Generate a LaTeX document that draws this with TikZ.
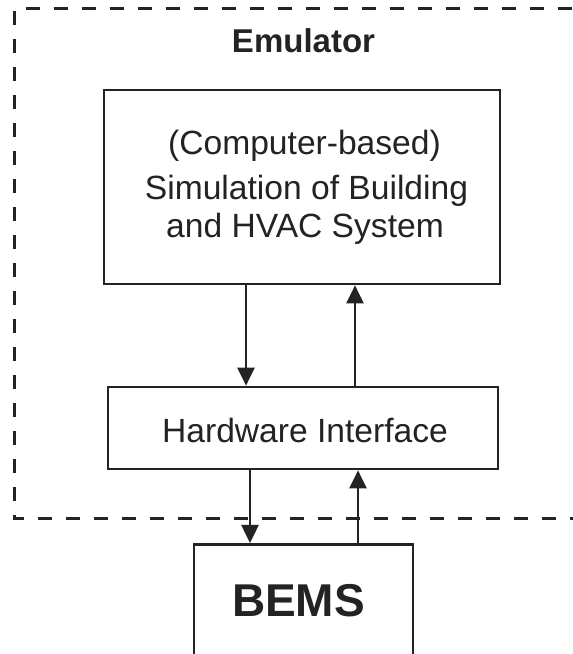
\documentclass[tikz,border=0pt]{standalone}
\usepackage{fontspec}
\setmainfont{Liberation Sans}
\usetikzlibrary{arrows.meta}
\definecolor{ink}{HTML}{232323}
\tikzset{
  x=1pt, y=1pt,
  boxframe/.style={draw=ink, line width=2.7pt, fill=white, inner sep=0pt},
  bodytext/.style={text=ink, inner sep=0pt, anchor=base,
    font=\fontsize{33.6}{40}\selectfont},
  headtext/.style={text=ink, inner sep=0pt, anchor=base,
    font=\fontsize{33}{40}\selectfont\bfseries},
  bigtext/.style={text=ink, inner sep=0pt, anchor=base,
    font=\fontsize{46}{52}\selectfont\bfseries},
  flow/.style={draw=ink, line width=2.5pt,
    -{Triangle[length=18pt,width=17pt]}},
  frameline/.style={draw=ink, line width=3pt, dash pattern=on 14pt off 14pt}
}
\begin{document}
\begin{tikzpicture}
\useasboundingbox (0,0) rectangle (573,654);

% Emulator frame (open to the right)
\coordinate (ftr) at (600,645);
\coordinate (ftl) at (14,645);
\coordinate (fbl) at (14,135);
\coordinate (fbr) at (600,135);
\draw[frameline] (ftr) -- (ftl) -- (fbl) -- (fbr);
\node[headtext] (emu) at (303.5,601) {Emulator};

% Simulation box
\node[boxframe, minimum width=396pt, minimum height=194pt] (sim) at (302,467) {};
\node[bodytext] (simA) at (304.5,499) {(Computer-based)};
\node[bodytext] (simB) at (306.5,454) {Simulation of Building};
\node[bodytext] (simC) at (305,416) {and HVAC System};

% Hardware interface box
\node[boxframe, minimum width=390pt, minimum height=82pt] (hw) at (303,226) {};
\node[bodytext] (hwtxt) at (305,211) {Hardware Interface};

% BEMS box (runs past the lower edge)
\node[boxframe, anchor=north, minimum width=219pt, minimum height=170pt] (bems) at (303.5,111) {};
\node[bigtext] (bemstxt) at (298.5,37) {BEMS};

% Arrow columns
\coordinate (c1) at (246,0);
\coordinate (c2) at (355,0);
\coordinate (c3) at (250,0);
\coordinate (c4) at (358,0);

\draw[flow] (sim.south -| c1) -- (hw.north -| c1);
\draw[flow] (hw.north -| c2) -- (sim.south -| c2);
\draw[flow] (hw.south -| c3) -- (bems.north -| c3);
\draw[flow] (bems.north -| c4) -- (hw.south -| c4);
\end{tikzpicture}
\end{document}
